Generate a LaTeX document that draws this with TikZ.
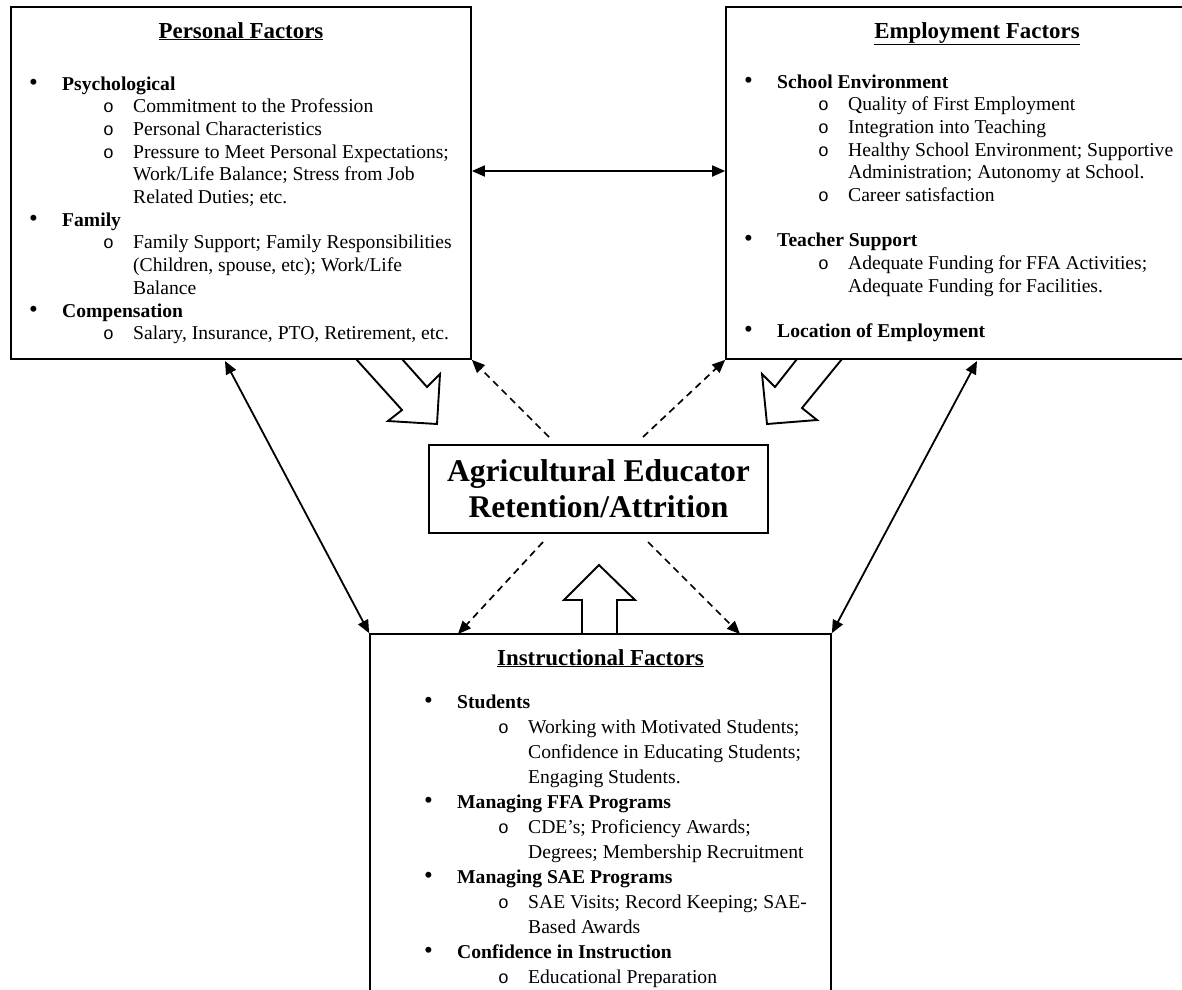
\documentclass[tikz,border=0pt]{standalone}
\usepackage{fontspec}
\setmainfont{Liberation Serif}
\setmonofont{Liberation Mono}
\usetikzlibrary{arrows.meta}
\tikzset{
  box/.style={draw, line width=1.7pt, inner sep=0pt},
  txt/.style={anchor=base west, inner sep=0pt, font=\fontsize{19.6}{22.5}\selectfont},
  ttl/.style={anchor=base, inner sep=0pt, font=\fontsize{22.9}{26}\selectfont\bfseries},
  link/.style={line width=1.8pt, {Triangle[length=13pt,width=11pt]}-{Triangle[length=13pt,width=11pt]}},
  dlink/.style={line width=1.7pt, dash pattern=on 7pt off 5pt, -{Triangle[length=13pt,width=11pt]}},
  blockarrow/.style={line width=1.9pt, line join=miter},
}
\newcommand\myMain[5]{\node[txt,font=\fontsize{25}{25}\selectfont] (#1b) at (#2,#4) {•};\node[txt,font=\fontsize{19.6}{22.5}\selectfont\bfseries] (#1) at (#3,#4) {#5};}
\newcommand\mySub[5]{\node[txt,font=\fontsize{18}{22.5}\selectfont\ttfamily] (#1b) at (#2,#4) {o};\node[txt] (#1) at (#3,#4) {#5};}
\newcommand\myCont[4]{\node[txt] (#1) at (#2,#3) {#4};}
\begin{document}
\begin{tikzpicture}[x=1pt,y=-1pt]
\useasboundingbox (0,0) rectangle (1182,989);
% boxes
\node[box, minimum width=460pt, minimum height=352pt] (personal) at (241,183) {};
\node[box, minimum width=502pt, minimum height=352pt] (employ) at (977,183) {};
\node[box, minimum width=461pt, minimum height=380pt] (instr) at (600.5,824) {};
\node[box, minimum width=339pt, minimum height=88pt, align=center,
      font=\fontsize{31.6}{36}\selectfont\bfseries] (center) at (598.5,489)
      {Agricultural Educator\\Retention/Attrition};
% Personal factors
\node[ttl] (ptitle) at (241,38) {\underline{Personal Factors}};
\myMain{p1}{29}{62}{90}{Psychological}
\mySub{p2}{103}{133}{112.7}{Commitment to the Profession}
\mySub{p3}{103}{133}{135.4}{Personal Characteristics}
\mySub{p4}{103}{133}{158.1}{Pressure to Meet Personal Expectations;}
\myCont{p5}{133}{180.8}{Work/Life Balance; Stress from Job}
\myCont{p6}{133}{203.5}{Related Duties; etc.}
\myMain{p7}{29}{62}{226.2}{Family}
\mySub{p8}{103}{133}{248.9}{Family Support; Family Responsibilities}
\myCont{p9}{133}{271.6}{(Children, spouse, etc); Work/Life}
\myCont{p10}{133}{294.3}{Balance}
\myMain{p11}{29}{62}{317}{Compensation}
\mySub{p12}{103}{133}{339.7}{Salary, Insurance, PTO, Retirement, etc.}
% Employment factors
\node[ttl] (etitle) at (977,38) {\underline{Employment Factors}};
\myMain{e1}{744}{777}{88}{School Environment}
\mySub{e2}{818}{848}{110.7}{Quality of First Employment}
\mySub{e3}{818}{848}{133.4}{Integration into Teaching}
\mySub{e4}{818}{848}{156.1}{Healthy School Environment; Supportive}
\myCont{e5}{848}{178.8}{Administration; Autonomy at School.}
\mySub{e6}{818}{848}{201.5}{Career satisfaction}
\myMain{e7}{744}{777}{246.9}{Teacher Support}
\mySub{e8}{818}{848}{269.6}{Adequate Funding for FFA Activities;}
\myCont{e9}{848}{292.3}{Adequate Funding for Facilities.}
\myMain{e10}{744}{777}{337.7}{Location of Employment}
% Instructional factors
\node[ttl] (ititle) at (600.5,665) {\underline{Instructional Factors}};
\myMain{i1}{424}{457}{708}{Students}
\mySub{i2}{498}{528}{733}{Working with Motivated Students;}
\myCont{i3}{528}{758}{Confidence in Educating Students;}
\myCont{i4}{528}{783}{Engaging Students.}
\myMain{i5}{424}{457}{808}{Managing FFA Programs}
\mySub{i6}{498}{528}{833}{CDE’s; Proficiency Awards;}
\myCont{i7}{528}{858}{Degrees; Membership Recruitment}
\myMain{i8}{424}{457}{883}{Managing SAE Programs}
\mySub{i9}{498}{528}{908}{SAE Visits; Record Keeping; SAE-}
\myCont{i10}{528}{933}{Based Awards}
\myMain{i11}{424}{457}{958}{Confidence in Instruction}
\mySub{i12}{498}{528}{983}{Educational Preparation}
% connector end points
\coordinate (hy) at (0,171);
\coordinate (lt) at (225,361);
\coordinate (rt) at (977,361);
\coordinate (d1) at (549,437);
\coordinate (d2) at (643,437);
\coordinate (d3) at (543,542);
\coordinate (d4) at (648,542);
\coordinate (d3e) at (458,634);
\coordinate (d4e) at (740,634);
% solid double arrows
\draw[link] (personal.east |- hy) -- (employ.west |- hy);
\draw[link] (lt) -- (instr.north west);
\draw[link] (rt) -- (instr.north east);
% dashed arrows
\draw[dlink] (d1) -- (personal.south east);
\draw[dlink] (d2) -- (employ.south west);
\draw[dlink] (d3) -- (d3e);
\draw[dlink] (d4) -- (d4e);
% block arrows
\draw[blockarrow] (356,359) -- (402,410) -- (388,421) -- (437,424) -- (440,374) -- (427,387) -- (402,359);
\draw[blockarrow] (797,359) -- (775,387) -- (762,374) -- (767,424) -- (817,420) -- (802,408) -- (842,359);
\draw[blockarrow] (582,634) -- (582,600) -- (564,600) -- (599,565) -- (635,600) -- (617,600) -- (617,634);
\end{tikzpicture}
\end{document}
